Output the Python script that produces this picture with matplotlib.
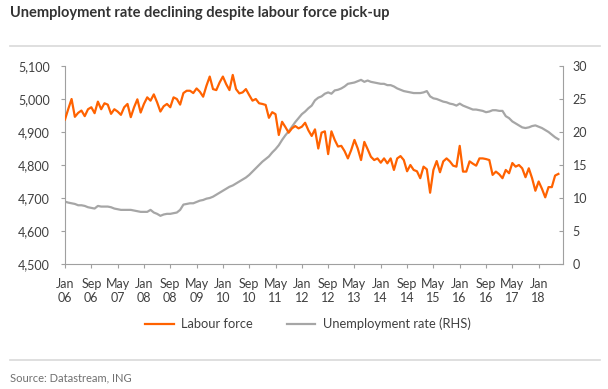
import matplotlib
matplotlib.use("Agg")
import matplotlib.pyplot as plt
from matplotlib.lines import Line2D
from matplotlib.ticker import FuncFormatter

# ---------------- data (monthly, Jan 2006 - Jul 2018) ----------------
labour_force = [
    # 2006
    4938, 4970, 5000, 4946, 4958, 4965, 4948, 4969, 4975, 4957, 4992, 4969,
    # 2007
    4987, 4983, 4955, 4969, 4962, 4952, 4975, 4985, 4945, 4975, 4999, 4959,
    # 2008
    4985, 5005, 4995, 5014, 4990, 4962, 4978, 4985, 4975, 5005, 5000, 4983,
    # 2009
    5018, 5025, 5025, 5018, 5032, 5022, 5007, 5040, 5068, 5030, 5027, 5050,
    # 2010
    5068, 5045, 5027, 5073, 5030, 5017, 5020, 5030, 5012, 4995, 5000, 4987,
    # 2011
    4985, 4982, 4943, 4960, 4954, 4891, 4931, 4915, 4898, 4911, 4918, 4911,
    # 2012
    4916, 4928, 4905, 4888, 4908, 4850, 4898, 4902, 4833, 4902, 4876, 4856,
    # 2013
    4858, 4842, 4820, 4845, 4876, 4850, 4815, 4870, 4848, 4825, 4815, 4820,
    # 2014
    4807, 4820, 4805, 4820, 4785, 4820, 4827, 4815, 4781, 4800, 4785, 4781,
    # 2015
    4760, 4795, 4787, 4716, 4785, 4812, 4778, 4811, 4820, 4811, 4798, 4795,
    # 2016
    4858, 4780, 4780, 4811, 4804, 4798, 4820, 4820, 4818, 4815, 4770, 4780,
    # 2017
    4772, 4760, 4785, 4775, 4806, 4795, 4800, 4790, 4763, 4790, 4760, 4722,
    # 2018
    4750, 4728, 4702, 4733, 4733, 4768, 4773,
]

unemployment_rate = [
    # 2006
    9.45, 9.3, 9.2, 9.1, 8.9, 8.9, 8.8, 8.6, 8.5, 8.4, 8.8, 8.7,
    # 2007
    8.7, 8.7, 8.6, 8.4, 8.3, 8.2, 8.2, 8.2, 8.2, 8.1, 8.0, 7.9,
    # 2008
    7.9, 7.9, 8.2, 7.8, 7.6, 7.3, 7.5, 7.6, 7.6, 7.7, 7.8, 8.2,
    # 2009
    9.0, 9.1, 9.2, 9.2, 9.4, 9.6, 9.7, 9.9, 10.0, 10.2, 10.5, 10.8,
    # 2010
    11.1, 11.4, 11.7, 11.9, 12.2, 12.5, 12.8, 13.1, 13.5, 14.0, 14.5, 15.0,
    # 2011
    15.5, 15.9, 16.3, 16.9, 17.4, 18.0, 18.8, 19.5, 20.1, 20.8, 21.5, 22.1,
    # 2012
    22.7, 23.1, 23.6, 24.0, 24.8, 25.2, 25.4, 25.8, 26.0, 25.8, 26.3, 26.4,
    # 2013
    26.6, 26.9, 27.3, 27.4, 27.5, 27.7, 27.9, 27.6, 27.8, 27.6, 27.5, 27.4,
    # 2014
    27.3, 27.3, 27.1, 27.1, 26.9, 26.6, 26.4, 26.2, 26.1, 26.0, 25.9, 25.9,
    # 2015
    25.9, 26.0, 26.2, 25.4, 25.1, 25.0, 24.8, 24.6, 24.5, 24.3, 24.2, 24.0,
    # 2016
    24.3, 24.0, 23.8, 23.6, 23.4, 23.4, 23.3, 23.2, 23.0, 23.1, 23.3, 23.3,
    # 2017
    23.2, 23.2, 22.4, 22.1, 21.6, 21.3, 21.0, 20.7, 20.6, 20.7, 20.9, 21.0,
    # 2018
    20.8, 20.6, 20.3, 20.0, 19.6, 19.2, 18.9,
]

tick_labels = ["Jan\n06", "Sep\n06", "May\n07", "Jan\n08", "Sep\n08", "May\n09",
               "Jan\n10", "Sep\n10", "May\n11", "Jan\n12", "Sep\n12", "May\n13",
               "Jan\n14", "Sep\n14", "May\n15", "Jan\n16", "Sep\n16", "May\n17",
               "Jan\n18"]

series_names = ["Labour force", "Unemployment rate (RHS)"]
title = "Unemployment rate declining despite labour force pick-up"
source = "Source: Datastream, ING"

# ---------------- styling ----------------
plt.rcParams["font.family"] = ["Lato", "DejaVu Sans"]
ORANGE = "#FF6200"
GREY = "#A6A6A6"
TXT = "#404040"
AX = "#A0A0A0"

W, H = 608, 389
fig = plt.figure(figsize=(W / 100, H / 100), dpi=100)

def fx(px):
    return px / W

def fy(py):
    return 1 - py / H

ax = fig.add_axes([fx(65), fy(264), fx(563) - fx(65), fy(66) - fy(264)])
ax2 = ax.twinx()

x = list(range(len(labour_force)))
ax.plot(x, labour_force, color=ORANGE, lw=1.6, zorder=3)
ax2.plot(x, unemployment_rate, color=GREY, lw=1.6, zorder=2)
ax.set_zorder(ax2.get_zorder() + 1)
ax.patch.set_visible(False)

ax.set_xlim(0, 151.4)
ax.set_ylim(4500, 5100)
ax2.set_ylim(0, 30)

ax.set_yticks(range(4500, 5101, 100))
ax.yaxis.set_major_formatter(FuncFormatter(lambda v, p: f"{int(v):,}"))
ax2.set_yticks(range(0, 31, 5))

ax.set_xticks(range(0, 8 * len(tick_labels), 8))
ax.set_xticklabels(tick_labels)

for a in (ax, ax2):
    for s in a.spines.values():
        s.set_visible(False)
ax.spines["left"].set_visible(True)
ax.spines["bottom"].set_visible(True)
ax2.spines["right"].set_visible(True)
for s in (ax.spines["left"], ax.spines["bottom"], ax2.spines["right"]):
    s.set_color(AX)
    s.set_linewidth(0.8)

ax.tick_params(axis="both", colors=AX, labelcolor=TXT, labelsize=9, length=3, width=0.8)
ax.tick_params(axis="x", pad=7)
ax.tick_params(axis="y", pad=8)
ax2.tick_params(axis="y", colors=AX, labelcolor=TXT, labelsize=9, length=3, width=0.8,
                direction="in", pad=7)

# title and rules
fig.text(fx(10), fy(13), title, fontsize=10.5, color="#333333", fontweight="bold",
         va="center", ha="left")
fig.add_artist(Line2D([fx(10), fx(600)], [fy(46), fy(46)], color="#D9D9D9", lw=1.2))
fig.add_artist(Line2D([fx(10), fx(600)], [fy(360), fy(360)], color="#D9D9D9", lw=1.2))
fig.text(fx(10), fy(378), source, fontsize=8, color="#707070", va="center", ha="left")

# legend
handles = [Line2D([], [], color=ORANGE, lw=1.6), Line2D([], [], color=GREY, lw=1.6)]
fig.legend(handles, series_names, loc="center", bbox_to_anchor=(fx(308), fy(324)),
           ncol=2, frameon=False, fontsize=9.3, handlelength=2.2, handletextpad=0.6,
           columnspacing=2.6, labelcolor=TXT)

fig.savefig("out.png", dpi=100, facecolor="white")
